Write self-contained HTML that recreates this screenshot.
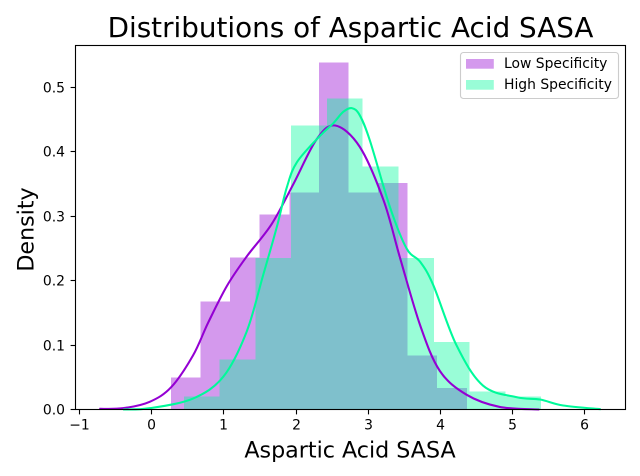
<!DOCTYPE html>
<html>
<head>
<meta charset="utf-8">
<style>
html,body{margin:0;padding:0;background:#fff;}
svg{display:block;}
text{font-family:"DejaVu Sans","Liberation Sans",sans-serif;fill:#000;}
</style>
</head>
<body>
<svg id="chart" width="640" height="476" viewBox="0 0 640 476" xmlns="http://www.w3.org/2000/svg">
<rect width="640" height="476" fill="#fff"/>
<g id="bars-low" shape-rendering="crispEdges"></g>
<g id="bars-high" shape-rendering="crispEdges"></g>
<path id="kde-low" fill="none" stroke="#9400d3" stroke-width="2.08"/>
<path id="kde-high" fill="none" stroke="#00fa9a" stroke-width="2.08"/>
<g id="ticks"></g>
<rect x="75.5" y="45.5" width="550" height="364" fill="none" stroke="#000" stroke-width="1.11"/>
<text x="350.5" y="37" font-size="27.8" text-anchor="middle">Distributions of Aspartic Acid SASA</text>
<text x="350" y="457.5" font-size="22.2" text-anchor="middle">Aspartic Acid SASA</text>
<text transform="translate(33.5,229.5) rotate(-90)" font-size="22.2" text-anchor="middle">Density</text>
<g>
<rect x="460.5" y="52.5" width="158" height="46" rx="3" fill="#fff" fill-opacity="0.8" stroke="#ccc" stroke-width="1.11"/>
<rect x="466" y="59" width="27.8" height="9.7" fill="#9400d3" fill-opacity="0.4"/>
<text x="504" y="68" font-size="13.9">Low Specificity</text>
<rect x="466" y="80" width="27.8" height="9.7" fill="#00fa9a" fill-opacity="0.4"/>
<text x="504" y="89" font-size="13.9">High Specificity</text>
</g>
</svg>
<script>
const lowBinEdges = [0.274,0.684,1.094,1.504,1.914,2.324,2.734,3.144,3.554,3.964,4.374];
const lowDensity = [0.050,0.168,0.236,0.303,0.337,0.539,0.337,0.352,0.084,0.033];
const highBinEdges = [0.455,0.950,1.445,1.940,2.435,2.930,3.425,3.920,4.415,4.910,5.405];
const highDensity = [0.020,0.078,0.235,0.441,0.483,0.377,0.235,0.105,0.028,0.020];
const lowKdeX = [-0.72,-0.39,-0.02,0.28,0.58,0.79,1.05,1.32,1.67,1.97,2.29,2.55,2.89,3.22,3.45,3.73,4.00,4.37,4.83,5.38];
const lowKdeY = [0.001,0.002,0.012,0.035,0.084,0.135,0.192,0.237,0.288,0.350,0.419,0.441,0.408,0.325,0.235,0.130,0.060,0.023,0.004,0];
const highKdeX = [-0.39,-0.02,0.58,1.00,1.32,1.55,1.74,1.88,2.02,2.34,2.52,2.66,2.78,2.89,3.03,3.31,3.54,3.73,3.91,4.23,4.60,5.07,5.39,5.71,6.23];
const highKdeY = [0,0.002,0.017,0.051,0.120,0.208,0.283,0.345,0.384,0.425,0.444,0.462,0.468,0.457,0.418,0.314,0.250,0.229,0.193,0.100,0.037,0.019,0.0155,0.0062,0.0005];
const xTickValues = [-1,0,1,2,3,4,5,6];
const xTickLabels = ["\u22121","0","1","2","3","4","5","6"];
const yTickValues = [0,0.1,0.2,0.3,0.4,0.5];
const yTickLabels = ["0.0","0.1","0.2","0.3","0.4","0.5"];

const NS = "http://www.w3.org/2000/svg";
function xScale(v){ return 151.2 + 72.15 * v; }
function yScale(v){ return 409.5 - 644 * v; }

function drawBars(groupId, edges, values, color, name){
  const g = document.getElementById(groupId);
  values.forEach(function(v, i){
    const r = document.createElementNS(NS, "rect");
    r.setAttribute("x", xScale(edges[i]));
    r.setAttribute("y", yScale(v));
    r.setAttribute("width", xScale(edges[i+1]) - xScale(edges[i]));
    r.setAttribute("height", yScale(0) - yScale(v));
    r.setAttribute("fill", color);
    r.setAttribute("fill-opacity", "0.4");
    
    
    g.appendChild(r);
  });
}
function smoothPath(xs, ys){
  const p = xs.map(function(x, i){ return [xScale(x), yScale(ys[i])]; });
  let d = "M" + p[0][0].toFixed(2) + " " + p[0][1].toFixed(2);
  for (let i = 0; i < p.length - 1; i++){
    const a = p[Math.max(i-1,0)], b = p[i], c = p[i+1], e = p[Math.min(i+2,p.length-1)];
    d += "C" + (b[0]+(c[0]-a[0])/6).toFixed(2) + " " + (b[1]+(c[1]-a[1])/6).toFixed(2) + " " +
         (c[0]-(e[0]-b[0])/6).toFixed(2) + " " + (c[1]-(e[1]-b[1])/6).toFixed(2) + " " +
         c[0].toFixed(2) + " " + c[1].toFixed(2);
  }
  return d;
}
drawBars("bars-low", lowBinEdges, lowDensity, "#9400d3", "bar-low-specificity");
drawBars("bars-high", highBinEdges, highDensity, "#00fa9a", "bar-high-specificity");
document.getElementById("kde-low").setAttribute("d", smoothPath(lowKdeX, lowKdeY));
document.getElementById("kde-high").setAttribute("d", smoothPath(highKdeX, highKdeY));

const tickGroup = document.getElementById("ticks");
xTickValues.forEach(function(v, i){
  const px = Math.round(xScale(v)) + 0.5;
  const l = document.createElementNS(NS, "line");
  l.setAttribute("x1", px); l.setAttribute("x2", px);
  l.setAttribute("y1", 409.5); l.setAttribute("y2", 414.4);
  l.setAttribute("stroke", "#000"); l.setAttribute("stroke-width", "1.11");
  
  
  tickGroup.appendChild(l);
  const t = document.createElementNS(NS, "text");
  t.setAttribute("x", px); t.setAttribute("y", 429.5);
  t.setAttribute("font-size", "13.9"); t.setAttribute("text-anchor", "middle");
  t.textContent = xTickLabels[i];
  
  
  tickGroup.appendChild(t);
});
yTickValues.forEach(function(v, i){
  const py = Math.round(yScale(v) - 0.5) + 0.5;
  const l = document.createElementNS(NS, "line");
  l.setAttribute("x1", 70.6); l.setAttribute("x2", 75.5);
  l.setAttribute("y1", py); l.setAttribute("y2", py);
  l.setAttribute("stroke", "#000"); l.setAttribute("stroke-width", "1.11");
  
  
  tickGroup.appendChild(l);
  const t = document.createElementNS(NS, "text");
  t.setAttribute("x", 65); t.setAttribute("y", py + 5);
  t.setAttribute("font-size", "13.9"); t.setAttribute("text-anchor", "end");
  t.textContent = yTickLabels[i];
  
  
  tickGroup.appendChild(t);
});
</script>
</body>
</html>
